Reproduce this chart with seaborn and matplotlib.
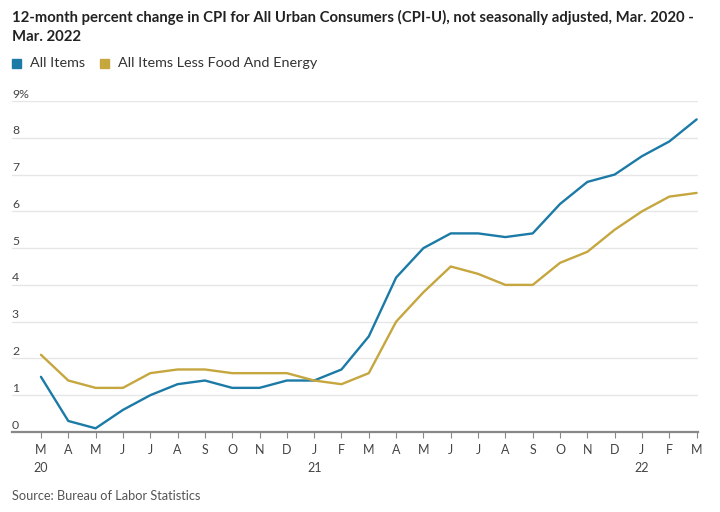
import matplotlib
matplotlib.use("Agg")
import matplotlib.pyplot as plt
import seaborn as sns
import pandas as pd
import numpy as np

months = ["M", "A", "M", "J", "J", "A", "S", "O", "N", "D", "J", "F",
          "M", "A", "M", "J", "J", "A", "S", "O", "N", "D", "J", "F", "M"]
years = {0: "20", 10: "21", 22: "22"}
all_items = [1.5, 0.3, 0.1, 0.6, 1.0, 1.3, 1.4, 1.2, 1.2, 1.4, 1.4, 1.7,
             2.6, 4.2, 5.0, 5.4, 5.4, 5.3, 5.4, 6.2, 6.8, 7.0, 7.5, 7.9, 8.5]
core = [2.1, 1.4, 1.2, 1.2, 1.6, 1.7, 1.7, 1.6, 1.6, 1.6, 1.4, 1.3,
        1.6, 3.0, 3.8, 4.5, 4.3, 4.0, 4.0, 4.6, 4.9, 5.5, 6.0, 6.4, 6.5]
series_names = ["All Items", "All Items Less Food And Energy"]
colors = ["#1b7aa6", "#c5a63f"]
yticks = [0, 1, 2, 3, 4, 5, 6, 7, 8, 9]

df = pd.DataFrame({
    "idx": list(range(len(months))) * 2,
    "value": all_items + core,
    "series": [series_names[0]] * len(all_items) + [series_names[1]] * len(core),
})

sns.set_theme(style="white")
plt.rcParams["font.family"] = ["Lato", "DejaVu Sans"]

fig = plt.figure(figsize=(7.2, 5.12), dpi=100)
ax = fig.add_axes([12 / 720, 1 - 432 / 512, (698 - 12) / 720, (432 - 101) / 512])

sns.lineplot(data=df, x="idx", y="value", hue="series", palette=colors,
             linewidth=1.7, ax=ax, legend=False)

ax.set_xlim(-1.06, 24.05)
ax.set_ylim(0, 9)
ax.set_xlabel("")
ax.set_ylabel("")

for s in ["top", "right", "left"]:
    ax.spines[s].set_visible(False)
ax.spines["bottom"].set_color("#888888")
ax.spines["bottom"].set_linewidth(1.6)

ax.set_yticks(yticks)
ax.set_yticklabels([])
ax.tick_params(axis="y", length=0)
for t in yticks[1:]:
    ax.axhline(t, color="#e6e6e6", linewidth=1.0, zorder=0)
for t in yticks:
    lab = f"{t}%" if t == yticks[-1] else str(t)
    ax.text(0, t + 0.04, lab, transform=ax.get_yaxis_transform(),
            ha="left", va="bottom", fontsize=8.8, color="#444444")

ax.set_xticks(range(len(months)))
ax.set_xticklabels([m + ("\n" + years[i] if i in years else "") for i, m in enumerate(months)],
                   fontsize=9, color="#444444", linespacing=1.5)
ax.tick_params(axis="x", length=4, width=0.8, color="#888888", pad=5, bottom=True)

fig.text(12 / 720, 1 - 10 / 512,
         "12-month percent change in CPI for All Urban Consumers (CPI-U), not seasonally adjusted, Mar. 2020 -\nMar. 2022",
         ha="left", va="top", fontsize=10.75, fontweight="bold", color="#222222", linespacing=1.45)

# legend
lx = 12 / 720
ly = 1 - 63 / 512
fig.patches.append(plt.Rectangle((lx, ly - 4.5 / 512), 9 / 720, 9 / 512,
                                 transform=fig.transFigure, color=colors[0]))
fig.text(lx + 18 / 720, ly, series_names[0], ha="left", va="center",
         fontsize=10.4, color="#333333")
lx2 = 100 / 720
fig.patches.append(plt.Rectangle((lx2, ly - 4.5 / 512), 9 / 720, 9 / 512,
                                 transform=fig.transFigure, color=colors[1]))
fig.text(lx2 + 18 / 720, ly, series_names[1], ha="left", va="center",
         fontsize=10.4, color="#333333")

fig.text(12 / 720, 1 - 496 / 512, "Source: Bureau of Labor Statistics",
         ha="left", va="center", fontsize=9.2, color="#555555")

fig.savefig("out.png", dpi=100)
